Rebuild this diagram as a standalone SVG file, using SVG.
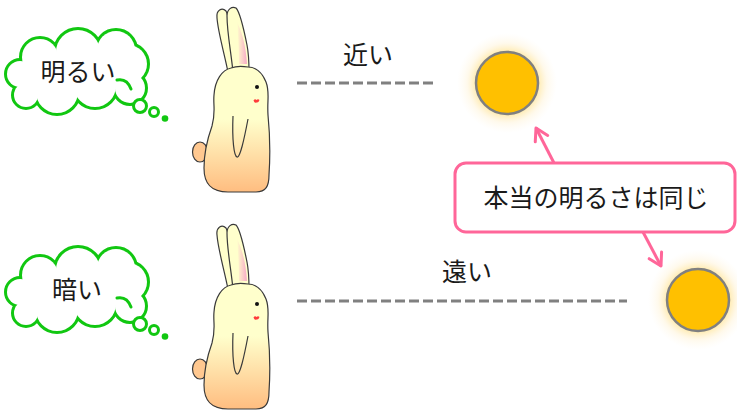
<svg xmlns="http://www.w3.org/2000/svg" xmlns:xlink="http://www.w3.org/1999/xlink" width="737" height="410" viewBox="0 0 737 410">
  <style>
    .label { font-family: "Noto Sans CJK JP", "Noto Sans", sans-serif; font-size: 25px; fill: #1a1a1a; text-anchor: middle; }
    .dash { stroke: #808080; stroke-width: 3; stroke-dasharray: 10 4; fill: none; }
    .link { stroke: #FF6699; stroke-width: 3; fill: none; marker-end: url(#chevron); }
    .outline { stroke: #3a3a3a; stroke-width: 1.2; stroke-linejoin: round; }
    .bubble { fill: #ffffff; stroke: #11C711; stroke-width: 3; }
    .cloud-edge { fill: #ffffff; stroke: #11C711; stroke-width: 6; }
    .cloud-fill { fill: #ffffff; stroke: none; }
    .sun { fill: #FFC000; stroke: #808080; stroke-width: 2.5; }
  </style>
  <defs>
    <!-- cloud built from overlapping circles; the stroke pass is covered by a fill pass -->
    <g id="cloudShape">
      <circle cx="20" cy="74" r="13"/>
      <circle cx="26" cy="95" r="12"/>
      <circle cx="57" cy="92" r="21"/>
      <circle cx="95" cy="86" r="21"/>
      <circle cx="130" cy="88" r="15"/>
      <circle cx="128" cy="64" r="19"/>
      <circle cx="116" cy="50" r="19"/>
      <circle cx="78" cy="52" r="22"/>
      <circle cx="40" cy="57" r="18"/>
    </g>
    <g id="cloud">
      <use xlink:href="#cloudShape" class="cloud-edge"/>
      <use xlink:href="#cloudShape" class="cloud-fill"/>
      <polygon class="cloud-fill" points="20,74 26,95 57,92 95,86 130,88 128,64 116,50 78,52 40,57"/>
      <path d="M117,80 Q127,78 131,89" fill="none" stroke="#11C711" stroke-width="3" stroke-linecap="round"/>
      <circle class="bubble" cx="140" cy="106" r="6.5"/>
      <circle class="bubble" cx="154" cy="112" r="4.5" stroke-width="2.5"/>
      <circle cx="165" cy="118.5" r="3.3" fill="#11C711"/>
    </g>

    <marker id="chevron" markerUnits="userSpaceOnUse" markerWidth="20" markerHeight="20" viewBox="-16 -10 20 20" refX="0" refY="0" orient="auto" overflow="visible">
      <path d="M-12,-7 L0,0 L-12,7" fill="none" stroke="#FF6699" stroke-width="3" stroke-linecap="round" stroke-linejoin="round"/>
    </marker>

    <radialGradient id="glow">
      <stop offset="0.6" stop-color="#FFC000" stop-opacity="0.35"/>
      <stop offset="0.8" stop-color="#FFD060" stop-opacity="0.12"/>
      <stop offset="1" stop-color="#FFE0A0" stop-opacity="0"/>
    </radialGradient>

    <linearGradient id="bodyFill" x1="0" y1="0" x2="0" y2="1">
      <stop offset="0" stop-color="#FFFFCC"/>
      <stop offset="0.42" stop-color="#FFFFCC"/>
      <stop offset="1" stop-color="#FFBD80"/>
    </linearGradient>
    <linearGradient id="earPink" x1="0" y1="0" x2="1" y2="0">
      <stop offset="0" stop-color="#F8A6C8" stop-opacity="0"/>
      <stop offset="1" stop-color="#F8A6C8" stop-opacity="0.95"/>
    </linearGradient>

    <g id="rabbit">
      <!-- back ear -->
      <path class="outline" fill="#FFFFCC" d="M228,72 C224,52 218,32 217,18 C216,10 222,7 226,11 C230,18 233,42 237,70 Z"/>
      <!-- front ear -->
      <path class="outline" fill="#FFFFCC" d="M233,72 C231,52 227,32 227,16 C227,9 232,6 236,8 C240,12 244,30 247,45 C249,55 249,63 249,72 Z"/>
      <path fill="url(#earPink)" d="M237,22 C242,32 246,46 247,64 L239,64 C239,48 238,34 237,22 Z"/>
      <!-- tail -->
      <ellipse class="outline" cx="200" cy="152" rx="7.5" ry="10" fill="#FFC890"/>
      <!-- body -->
      <path class="outline" fill="url(#bodyFill)" d="M231,68 C222,70 215,80 214,95 C213,105 216,112 212,126 C207,140 204,155 204,168 C204,184 211,192 228,192 L256,192 C266,192 269,186 269,175 C270,160 270,135 268,115 C267,100 270,92 266,82 C262,72 255,67 248,67 C242,66 236,66 231,68 Z"/>
      <!-- arm -->
      <path fill="none" class="outline" d="M233,116 C232,140 234,156 237,157 C240,158 244,140 248,119"/>
      <!-- eye and cheek -->
      <circle cx="257" cy="87" r="2" fill="#111"/>
      <path d="M253.5,100.5 q1.5,-2 3,-0.5 q1.5,-1.5 3,0 q-1,3 -3,2.5 q-2,1 -3,-2 z" fill="#FF3B3B"/>
    </g>
  </defs>

  <!-- thought clouds -->
  <g id="cloud-bright">
    <use xlink:href="#cloud"/>
    <text class="label" x="78" y="81">明るい</text>
  </g>
  <g id="cloud-dark">
    <use xlink:href="#cloud" transform="translate(0,218)"/>
    <text class="label" x="77" y="299">暗い</text>
  </g>

  <!-- rabbits -->
  <g id="rabbit-near"><use xlink:href="#rabbit"/></g>
  <g id="rabbit-far"><use xlink:href="#rabbit" transform="translate(0,217)"/></g>

  <!-- light sources -->
  <g id="sun-near">
    <circle cx="507" cy="83" r="50" fill="url(#glow)"/>
    <circle class="sun" cx="507" cy="83" r="31"/>
  </g>
  <g id="sun-far">
    <circle cx="698" cy="300" r="50" fill="url(#glow)"/>
    <circle class="sun" cx="698" cy="300" r="31"/>
  </g>

  <!-- connectors -->
  <g id="connectors">
    <line class="dash" x1="297" y1="83" x2="435" y2="83"/>
    <line class="dash" x1="297" y1="301" x2="627" y2="301"/>
    <path class="link" d="M554,163 L536,128"/>
    <path class="link" d="M643,232 L661,266"/>
  </g>

  <!-- distance labels -->
  <g id="label-near"><text class="label" x="368" y="64">近い</text></g>
  <g id="label-far"><text class="label" x="467" y="281">遠い</text></g>

  <!-- callout -->
  <g id="callout">
    <rect x="455" y="163" width="280" height="69" rx="11" fill="#ffffff" stroke="#FF6699" stroke-width="3"/>
    <text class="label" x="596" y="207">本当の明るさは同じ</text>
  </g>
</svg>
